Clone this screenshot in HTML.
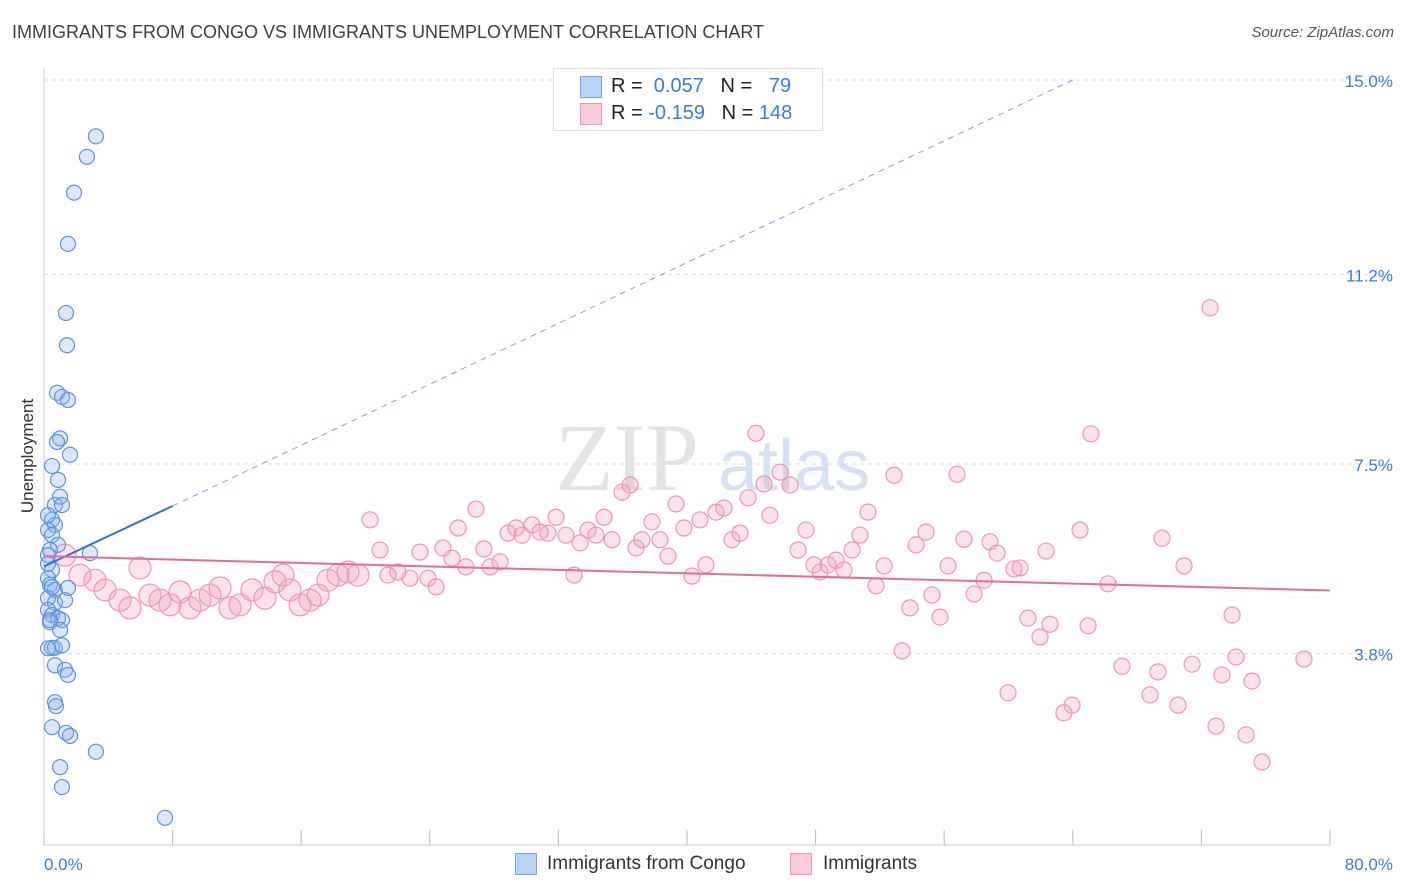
<!DOCTYPE html>
<html><head><meta charset="utf-8"><style>
body{margin:0;background:#fff;font-family:"Liberation Sans",sans-serif;}
#wrap{position:relative;width:1406px;height:892px;overflow:hidden;}
.t{position:absolute;white-space:nowrap;}
</style></head><body>
<div id="wrap">
<div class="t" style="left:12px;top:22px;font-size:18px;color:#3c4043;">IMMIGRANTS FROM CONGO VS IMMIGRANTS UNEMPLOYMENT CORRELATION CHART</div>
<div class="t" style="right:12px;top:24px;font-size:15px;color:#555;font-style:italic;">Source: ZipAtlas.com</div>
<svg id="svg" width="1406" height="892" style="position:absolute;left:0;top:0"></svg>
</div>
<script>
const blueX=[3.23,2.67,1.87,1.49,1.37,1.43,0.81,1.12,1.49,1.0,0.81,1.62,0.5,0.87,1.0,0.68,1.12,0.5,0.68,0.25,0.5,0.87,0.37,0.25,2.86,0.5,0.25,0.37,0.68,1.49,0.25,0.68,1.31,0.25,0.5,0.87,1.12,0.37,1.0,0.5,0.68,1.12,0.68,1.31,1.49,0.68,0.75,0.5,1.37,1.62,3.23,1.0,1.12,7.53,0.25,0.25,0.37,0.25,0.5];
const blueY=[13.9,13.5,12.8,11.8,10.45,9.82,8.89,8.81,8.75,8.0,7.93,7.68,7.46,7.19,6.86,6.7,6.7,6.41,6.31,6.21,6.11,5.92,5.82,5.72,5.76,5.43,5.27,5.14,5.04,5.08,4.88,4.79,4.84,4.65,4.55,4.49,4.45,4.41,4.26,3.91,3.91,3.96,3.57,3.48,3.38,2.85,2.77,2.36,2.25,2.19,1.88,1.58,1.19,0.59,6.5,5.55,4.45,3.9,5.1];
const pinkX=[1.31,2.24,3.17,3.80,4.73,5.35,5.97,6.59,7.22,7.84,8.46,9.08,9.70,10.33,10.95,11.57,12.19,12.94,13.75,14.37,14.87,15.30,15.93,16.55,17.05,17.67,18.29,18.91,19.53,20.28,20.90,21.40,22.02,22.77,23.39,23.89,24.39,24.82,25.38,25.76,26.25,26.87,27.37,27.75,28.37,28.87,29.36,29.74,30.36,30.86,31.35,31.85,32.47,32.97,33.35,33.84,34.34,34.84,35.34,35.96,36.46,36.83,37.20,37.82,38.32,38.82,39.32,39.81,40.31,40.81,41.18,41.81,42.30,42.80,43.30,43.80,44.29,44.79,45.16,45.79,46.41,46.91,47.40,47.90,48.28,48.77,49.27,49.77,50.27,50.76,51.26,51.76,52.26,52.88,53.38,53.87,54.25,54.87,55.24,55.74,56.24,56.80,57.23,57.86,58.48,58.85,59.29,59.97,60.34,60.72,61.21,61.96,62.34,62.58,63.45,63.95,64.45,64.95,65.13,66.19,67.06,68.80,69.30,69.55,70.55,70.92,71.42,72.54,72.91,73.28,73.91,74.15,74.78,75.15,75.77,78.38];
const pinkY=[5.72,5.33,5.23,5.04,4.84,4.69,5.47,4.94,4.84,4.75,5.00,4.69,4.84,4.94,5.08,4.69,4.75,5.04,4.88,5.20,5.33,5.04,4.75,4.84,4.94,5.23,5.33,5.39,5.33,6.41,5.82,5.33,5.39,5.27,5.78,5.27,5.10,5.86,5.66,6.25,5.49,6.62,5.84,5.49,5.59,6.15,6.25,6.11,6.31,6.17,6.15,6.46,6.11,5.33,5.96,6.21,6.11,6.46,6.02,6.95,7.09,5.86,6.02,6.37,6.02,5.70,6.72,6.25,5.31,6.41,5.53,6.56,6.64,6.02,6.15,6.84,8.10,7.11,6.50,7.34,7.09,5.82,6.21,5.53,5.39,5.53,5.62,5.43,5.82,6.11,6.56,5.12,5.51,7.28,3.85,4.69,5.92,6.17,4.94,4.51,5.51,7.30,6.03,4.96,5.23,5.98,5.76,3.03,5.45,5.47,4.49,4.12,5.80,4.37,2.64,2.79,6.21,4.34,8.09,5.16,3.55,2.99,3.44,6.05,2.79,5.51,3.59,10.55,2.38,3.38,4.55,3.73,2.21,3.26,1.68,3.69];
const yTicks=[3.8,7.5,11.2,15.0];
const yTickLabels=["3.8%","7.5%","11.2%","15.0%"];
const xTicks=[0,8,16,24,32,40,48,56,64,72,80];
const blueTrend=[0,5.5,8.0,6.68]; // x0,y0,x1(solid end),y1
const blueDashEnd=[64,15.0];
const pinkTrend=[0,5.7,80,5.03];

const X0=44,X1=1330,YB=848,PXY=51.2;
const sx=v=>X0+v/80*(X1-X0);
const sy=v=>YB-v*PXY;
const svg=document.getElementById('svg');
const NS='http://www.w3.org/2000/svg';
function mk(tag,attrs,name){const e=document.createElementNS(NS,tag);for(const k in attrs)e.setAttribute(k,attrs[k]);


svg.appendChild(e);return e;}
// watermark
const wm=mk('text',{x:555,y:490,'font-size':96,'font-family':'Liberation Serif','fill':'#e4e4e4'},'watermark-zip');wm.textContent='ZIP';
const wm2=mk('text',{x:718,y:490,'font-size':72,'font-family':'Liberation Sans','fill':'#d6e2f3'},'watermark-atlas');wm2.textContent='atlas';
// grid
yTicks.forEach((t,i)=>{mk('line',{x1:X0,x2:1393,y1:sy(t),y2:sy(t),stroke:'#dcdcdc','stroke-dasharray':'4,4'},'gridline');
const tx=mk('text',{x:1393,y:sy(t)+7,'text-anchor':'end','font-size':17,fill:'#3b78e7'},'y-tick-label');tx.textContent=yTickLabels[i];});
mk('line',{x1:X0,x2:X0,y1:68,y2:845,stroke:'#ccc'},'y-axis-line');
mk('line',{x1:X0,x2:X1,y1:845,y2:845,stroke:'#ccc'},'x-axis-line');
xTicks.forEach(t=>mk('line',{x1:sx(t),x2:sx(t),y1:830,y2:845,stroke:'#bbb'},'x-tick'));
let l=mk('text',{x:44,y:870,'font-size':17,fill:'#3b78e7'},'x-min-label');l.textContent='0.0%';
l=mk('text',{x:1393,y:870,'text-anchor':'end','font-size':17,fill:'#3b78e7'},'x-max-label');l.textContent='80.0%';
l=mk('text',{x:33,y:456,'font-size':17,fill:'#333',transform:'rotate(-90 33 456)','text-anchor':'middle'},'y-axis-title');l.textContent='Unemployment';
// points
pinkX.forEach((x,i)=>mk('circle',{cx:sx(x),cy:sy(pinkY[i]),r:x<20?11:8,fill:'rgba(244,160,190,0.3)',stroke:'#f095b5','stroke-width':1.2},'pink-point'));
blueX.forEach((x,i)=>mk('circle',{cx:sx(x),cy:sy(blueY[i]),r:7.5,fill:'rgba(140,180,240,0.3)',stroke:'#5b93e0','stroke-width':1.2},'blue-point'));
// trends
mk('line',{x1:sx(blueTrend[2]),y1:sy(blueTrend[3]),x2:sx(blueDashEnd[0]),y2:sy(blueDashEnd[1]),stroke:'#7aa6e6','stroke-width':1,'stroke-dasharray':'6,5'},'blue-trend-dashed');
mk('line',{x1:sx(blueTrend[0]),y1:sy(blueTrend[1]),x2:sx(blueTrend[2]),y2:sy(blueTrend[3]),stroke:'#2f6fd6','stroke-width':2},'blue-trend-line');
mk('line',{x1:sx(pinkTrend[0]),y1:sy(pinkTrend[1]),x2:sx(pinkTrend[2]),y2:sy(pinkTrend[3]),stroke:'#e86a98','stroke-width':2},'pink-trend-line');
</script>
<div class="t" style="left:553px;top:68px;width:268px;height:61px;border:1px solid #ddd;background:#fff;">
 <div class="t" style="left:26px;top:7px;width:20px;height:20px;background:#b8d3f8;border:1px solid #7aa6e6;"></div>
 <div class="t" style="left:57px;top:6px;font-size:20px;color:#222;">R = <span style="color:#3b78e7">&nbsp;0.057</span>&nbsp;&nbsp;&nbsp;N = <span style="color:#3b78e7">&nbsp;&nbsp;79</span></div>
 <div class="t" style="left:26px;top:34px;width:20px;height:20px;background:#fbcbd9;border:1px solid #f095b5;"></div>
 <div class="t" style="left:57px;top:33px;font-size:20px;color:#222;">R = <span style="color:#3b78e7">-0.159</span>&nbsp;&nbsp;&nbsp;N = <span style="color:#3b78e7">148</span></div>
</div>
<div class="t" style="left:515px;top:853px;width:20px;height:20px;background:#b8d3f8;border:1px solid #7aa6e6;"></div>
<div class="t" style="left:547px;top:853px;font-size:19px;color:#333;">Immigrants from Congo</div>
<div class="t" style="left:790px;top:853px;width:20px;height:20px;background:#fbcbd9;border:1px solid #f095b5;"></div>
<div class="t" style="left:823px;top:853px;font-size:19px;color:#333;">Immigrants</div>
</body></html>
